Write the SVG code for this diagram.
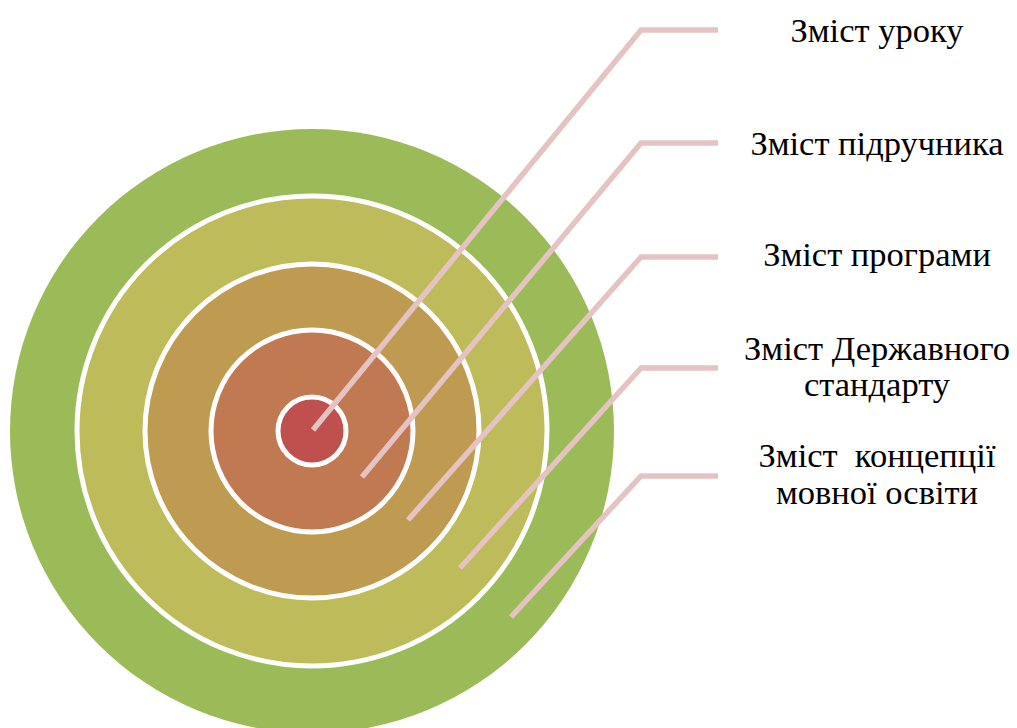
<svg xmlns="http://www.w3.org/2000/svg" width="1017" height="728" viewBox="0 0 1017 728">
<style>
.ring{stroke:#FFFFFF;stroke-width:5}
.conn{fill:none;stroke:#E6C3C3;stroke-width:5.5}
</style>
<rect width="1017" height="728" fill="#FFFFFF"/>
<g id="ring-outer"><circle cx="312" cy="431" r="302" fill="#9BBB59"/></g>
<g id="ring-2"><circle class="ring" cx="312" cy="431" r="235" fill="#BDBB5A"/></g>
<g id="ring-3"><circle class="ring" cx="312" cy="431" r="167" fill="#BF9B51"/></g>
<g id="ring-4"><circle class="ring" cx="312" cy="431" r="101" fill="#C17951"/></g>
<g id="ring-core"><circle class="ring" cx="312" cy="431" r="34" fill="#C0504D"/></g>
<g id="connectors">
<polyline class="conn" points="313,430 641,30 718,30"/>
<polyline class="conn" points="362,477 641,143 718,143"/>
<polyline class="conn" points="408,520 641,257 718,257"/>
<polyline class="conn" points="460,568 641,368 718,368"/>
<polyline class="conn" points="511,617 641,476 718,476"/>
</g>
<g font-family="Liberation Serif" font-size="34.5" fill="#000000" text-anchor="middle">
<g id="label-1"><text x="877" y="42">Зміст уроку</text></g>
<g id="label-2"><text x="877" y="155">Зміст підручника</text></g>
<g id="label-3"><text x="877" y="266">Зміст програми</text></g>
<g id="label-4"><text x="877" y="360">Зміст Державного</text><text x="877" y="396">стандарту</text></g>
<g id="label-5"><text x="877" y="467" xml:space="preserve">Зміст  концепції</text><text x="877" y="504">мовної освіти</text></g>
</g>
</svg>
